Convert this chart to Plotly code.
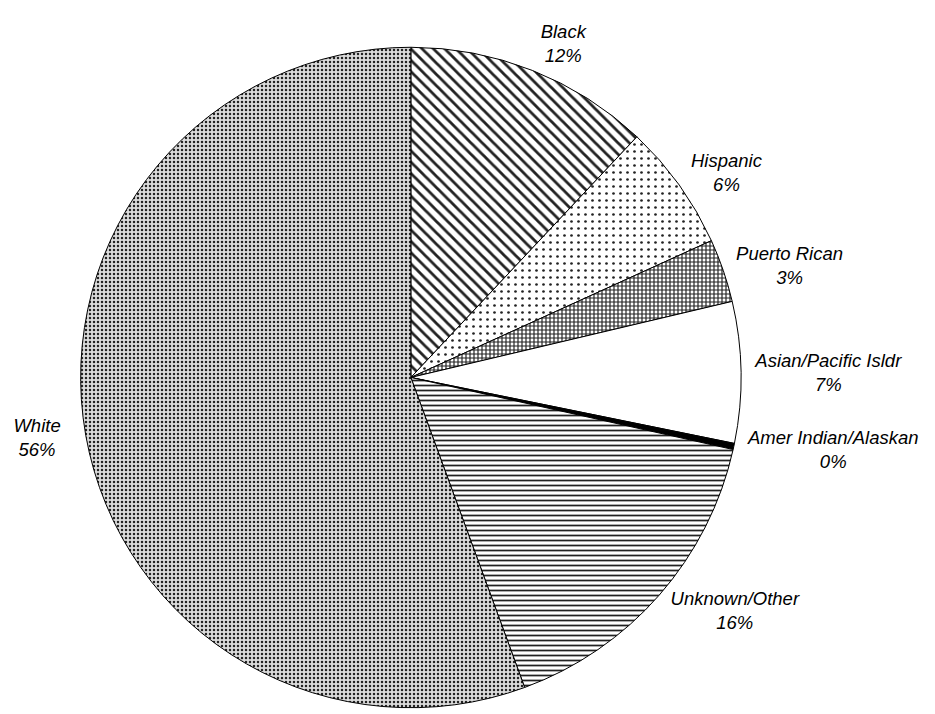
import plotly.graph_objects as go

labels = ["Black", "Hispanic", "Puerto Rican", "Asian/Pacific Isldr",
          "Amer Indian/Alaskan", "Unknown/Other", "White"]
values = [12.0, 6.2, 3.1, 6.9, 0.3, 15.9, 55.6]

shapes = ["\\", ".", "+", "", "", "-", "."]
fills = ["white", "white", "white", "white", "black", "white", "#dcdcdc"]
pattern_sizes = [8, 7, 4, 8, 8, 5, 4]
solidities = [0.35, 0.12, 0.5, 0.3, 0.3, 0.35, 0.3]

# slices (no text)
fig = go.Figure(go.Pie(
    labels=labels,
    values=values,
    sort=False,
    direction="clockwise",
    rotation=0,
    textinfo="none",
    marker=dict(
        colors=fills,
        line=dict(color="black", width=1),
        pattern=dict(shape=shapes, fgcolor="#222", bgcolor=fills,
                     size=pattern_sizes, solidity=solidities, fillmode="replace"),
    ),
    domain=dict(x=[68 / 935, 732 / 935], y=[12 / 714, 676 / 714]),
    showlegend=False,
    hoverinfo="label+percent",
))

# same data on a transparent pie, only to place the outside labels
fig.add_trace(go.Pie(
    labels=labels,
    values=values,
    sort=False,
    direction="clockwise",
    rotation=0,
    textposition="outside",
    texttemplate="%{label}<br>%{percent:.0%}",
    textfont=dict(family="Liberation Sans, Arial", size=18.5, color="black", style="italic"),
    marker=dict(colors=["rgba(0,0,0,0)"] * len(values), line=dict(width=0)),
    domain=dict(x=[54 / 935, 734 / 935], y=[4 / 714, 684 / 714]),
    showlegend=False,
    hoverinfo="skip",
))

fig.update_layout(
    width=935, height=714,
    margin=dict(l=0, r=0, t=0, b=0),
    paper_bgcolor="white",
    plot_bgcolor="white",
)

fig.write_html("out.html")
